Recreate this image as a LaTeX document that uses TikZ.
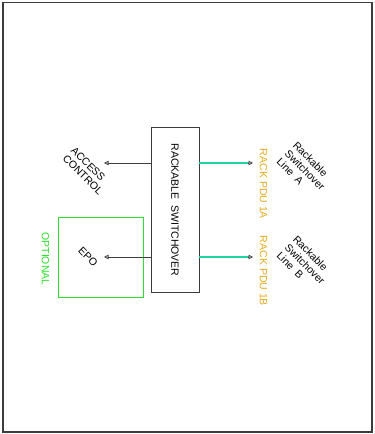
\documentclass[tikz,border=0pt]{standalone}
\usepackage{fontspec}
\setmainfont{Liberation Sans}
\usetikzlibrary{arrows.meta}
\definecolor{teal1}{RGB}{30,212,160}
\definecolor{gold1}{RGB}{232,170,30}
\definecolor{green1}{RGB}{40,225,40}
\definecolor{frame1}{RGB}{60,60,60}
\tikzset{
  txt/.style={font=\fontsize{10.5}{11.5}\selectfont, inner sep=0pt, align=left},
  diag/.style={txt, rotate=-45},
  vert/.style={txt, rotate=-90},
  sig/.style={draw=frame1, line width=0.8pt, -{Triangle[open,length=4.5pt,width=4.5pt]}},
  pdu/.style={draw=teal1, line width=1.8pt, shorten >=2pt},
  pdutip/.style={draw=frame1, line width=0.8pt, -{Triangle[open,length=4.5pt,width=4.5pt]}},
}
\begin{document}
\begin{tikzpicture}[x=1pt,y=-1pt]
\useasboundingbox (0,0) rectangle (375,434);
\draw[draw=frame1, line width=1.5pt] (3,2.5) rectangle (372,432);
% main box
\node[draw=frame1, line width=0.8pt, minimum width=48pt, minimum height=165pt, inner sep=0pt] (sw) at (175,209.5) {};
\node[vert] (swt) at (175,210) {RACKABLE\ \ SWITCHOVER};
% optional EPO box
\node[draw=green1, line width=0.9pt, minimum width=85pt, minimum height=80pt, inner sep=0pt] (opt) at (100.5,257) {};
\node[vert, text=green1] (optt) at (45.5,259) {OPTIONAL};
% coordinates
\coordinate (acL) at (151,163);
\coordinate (acE) at (104,163);
\coordinate (epL) at (151,257);
\coordinate (epE) at (104,257);
\coordinate (aR) at (199,163);
\coordinate (aE) at (253,163);
\coordinate (bR) at (199,257);
\coordinate (bE) at (253,257);
\draw[sig] (acL) -- (acE);
\draw[sig] (epL) -- (epE);
\draw[draw=teal1, line width=1.8pt] (aR) -- ([xshift=-4pt]aE);
\draw[draw=teal1, line width=1.8pt] (bR) -- ([xshift=-4pt]bE);
\draw[pdutip] ([xshift=-5pt]aE) -- (aE);
\draw[pdutip] ([xshift=-5pt]bE) -- (bE);
% labels
\node[diag] (ac) at (87,171) {ACCESS\\CONTROL};
\node[diag] (epo) at (88,257) {EPO};
\node[vert, text=gold1] (pa) at (263.5,184) {RACK PDU 1A};
\node[vert, text=gold1] (pb) at (263.5,271) {RACK PDU 1B};
\node[diag] (la) at (305,170) {Rackable\\Switchover\\Line\ \ A};
\node[diag] (lb) at (305,264) {Rackable\\Switchover\\Line\ \ B};
\end{tikzpicture}
\end{document}
